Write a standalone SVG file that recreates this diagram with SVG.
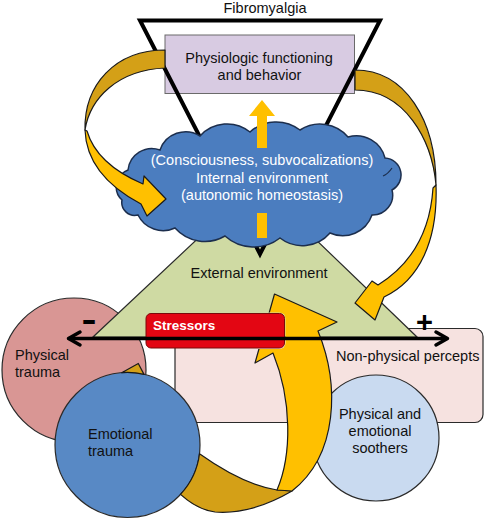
<svg xmlns="http://www.w3.org/2000/svg" width="485" height="519" viewBox="0 0 485 519">
<defs>
<style>
.t{font-family:"Liberation Sans",Arial,Helvetica,sans-serif;font-size:14.5px;fill:#111}
.tw{fill:#fff}
.mid{text-anchor:middle}
.ol{stroke:#2a2a2a;stroke-width:1.2}
.gold{fill:#d4a017;stroke:#1a1a1a;stroke-width:1.2;stroke-linejoin:round}
.yel{fill:#ffc000;stroke:#1a1a1a;stroke-width:1.2;stroke-linejoin:round}
.axis{fill:none;stroke:#000;stroke-width:3.5;stroke-linecap:round;stroke-linejoin:round}
</style>
<mask id="cut-stressors" maskUnits="userSpaceOnUse" x="0" y="0" width="485" height="519">
<rect x="0" y="0" width="485" height="519" fill="#fff"/>
<rect x="145" y="312.5" width="140.5" height="36.5" rx="6" fill="#000"/>
</mask>
</defs>
<rect width="485" height="519" fill="#fff"/>

<g id="non-physical-percepts">
<rect x="175" y="328.5" width="308" height="94" rx="8" fill="#f6e2e0" class="ol"/>
<text class="t" x="336" y="360.5">Non-physical percepts</text>
</g>

<g id="physical-trauma">
<circle cx="74" cy="370" r="72" fill="#d99694" class="ol"/>
<text class="t" x="15" y="359.5">Physical</text>
<text class="t" x="15" y="376.5">trauma</text>
</g>

<g id="external-environment">
<polygon points="93,337 417,337 257,183" fill="#cfdaa3" class="ol"/>
<text class="t mid" x="259" y="277.5">External environment</text>
</g>

<g id="physiologic-functioning">
<rect x="165" y="35" width="189.5" height="58.5" fill="#d8cbe2" stroke="#6a6a6a" stroke-width="1"/>
<text class="t mid" x="259" y="63">Physiologic functioning</text>
<text class="t mid" x="259.5" y="79.5">and behavior</text>
</g>

<g id="fibromyalgia">
<polygon points="140,20.5 380,20.5 260,254" fill="none" stroke="#000" stroke-width="4" stroke-linejoin="miter"/>
<text class="t mid" x="265" y="12.5">Fibromyalgia</text>
</g>

<g id="internal-environment">
<path d="M122,200 A18,18 0 0 1 128,170 A24,24 0 0 1 160,150 A27,27 0 0 1 200,136 A36.5,36.5 0 0 1 250,132 A39,39 0 0 1 300,130 A37,37 0 0 1 348,137 A29.6,29.6 0 0 1 385,158 A17,17 0 0 1 392,190 A20,20 0 0 1 372,215 A31,31 0 0 1 330,233 A36.5,36.5 0 0 1 280,238 A42.8,42.8 0 0 1 225,236 A40,40 0 0 1 175,228 A28,28 0 0 1 138,215 A13,13 0 0 1 122,200 Z" fill="#4b7dbf" stroke="#1c2e4d" stroke-width="1.5"/>
<path d="M392,168 Q388,174 383,176" fill="none" stroke="#1c2e4d" stroke-width="1.2"/>
<text class="t tw mid" x="262" y="165">(Consciousness, subvocalizations)</text>
<text class="t tw mid" x="262" y="182.5">Internal environment</text>
<text class="t tw mid" x="262" y="200">(autonomic homeostasis)</text>
</g>

<g id="physical-emotional-soothers">
<circle cx="376" cy="438" r="63" fill="#c9daf0" class="ol"/>
<text class="t mid" x="380" y="418.5">Physical and</text>
<text class="t mid" x="380" y="436">emotional</text>
<text class="t mid" x="380" y="453">soothers</text>
</g>

<g id="emotional-trauma">
<circle cx="127.5" cy="445" r="72.5" fill="#5889c5" class="ol"/>
<text class="t" x="88" y="438.5">Emotional</text>
<text class="t" x="88" y="455.5">trauma</text>
</g>

<g id="stressors">
<rect x="146" y="313.5" width="138.5" height="34.5" rx="5" fill="#e30613" stroke="#7a0a0a" stroke-width="1"/>
<text class="t tw" x="153" y="329.5" style="font-weight:bold;font-size:13.5px">Stressors</text>
</g>

<g id="connectors">
<!-- internal environment up to physiologic functioning -->
<polygon points="262,100 275,116 267,116 267,148 257,148 257,116 249,116" fill="#ffc000"/>
<rect x="257" y="213" width="10" height="25" fill="#ffc000"/>
<!-- left loop: behaviour back to internal environment -->
<path class="gold" d="M165,50 C115,50 84,85 85,130 C90,98 118,70 165,68 Z"/>
<path class="yel" d="M85,130 C86,160 105,185 141,204 L147,216 L166,199 L144,176 L143,184 C115,172 94,155 87,131 Z"/>
<!-- right loop: behaviour to external environment -->
<path class="gold" d="M355,70 C405,70 436,120 436,185 C432,140 405,90 355,90 Z"/>
<path class="yel" d="M436,185 C438,240 420,280 384,297 L375,320 L355,303 L372,281 L378,285 C410,265 430,235 433,188 Z"/>
<!-- trauma back up to external environment -->
<path class="gold" d="M121.7,372.7 L138.3,363.5 L144,374.4 A72.5,72.5 0 0 0 121.7,372.7 Z"/>
<path class="gold" d="M199.5,453.8 C225,472 252,486 277,490 L292,491 C268,505 240,514 215,512 C200,510 190,503 180.5,494.4 A72.5,72.5 0 0 0 199.5,453.8 Z"/>
<path class="yel" mask="url(#cut-stressors)" d="M277,490 C292,455 292,400 273,353 L255,363 L274.5,294 L337,322 L318,331 C340,385 338,455 292,491 Z"/>
<!-- negative / positive axis -->
<line class="axis" x1="69" y1="338.5" x2="446" y2="338.5"/>
<polyline class="axis" points="80,332 68.5,338.5 80,345"/>
<polyline class="axis" points="436,332 447.5,338.5 436,345"/>
<text x="89" y="331" text-anchor="middle" textLength="15" lengthAdjust="spacingAndGlyphs" style="font-family:'Liberation Sans',Arial,sans-serif;font-weight:bold;font-size:34px;fill:#000">-</text>
<text x="424.5" y="331.5" text-anchor="middle" style="font-family:'Liberation Sans',Arial,sans-serif;font-weight:bold;font-size:29px;fill:#000">+</text>
</g>
</svg>
